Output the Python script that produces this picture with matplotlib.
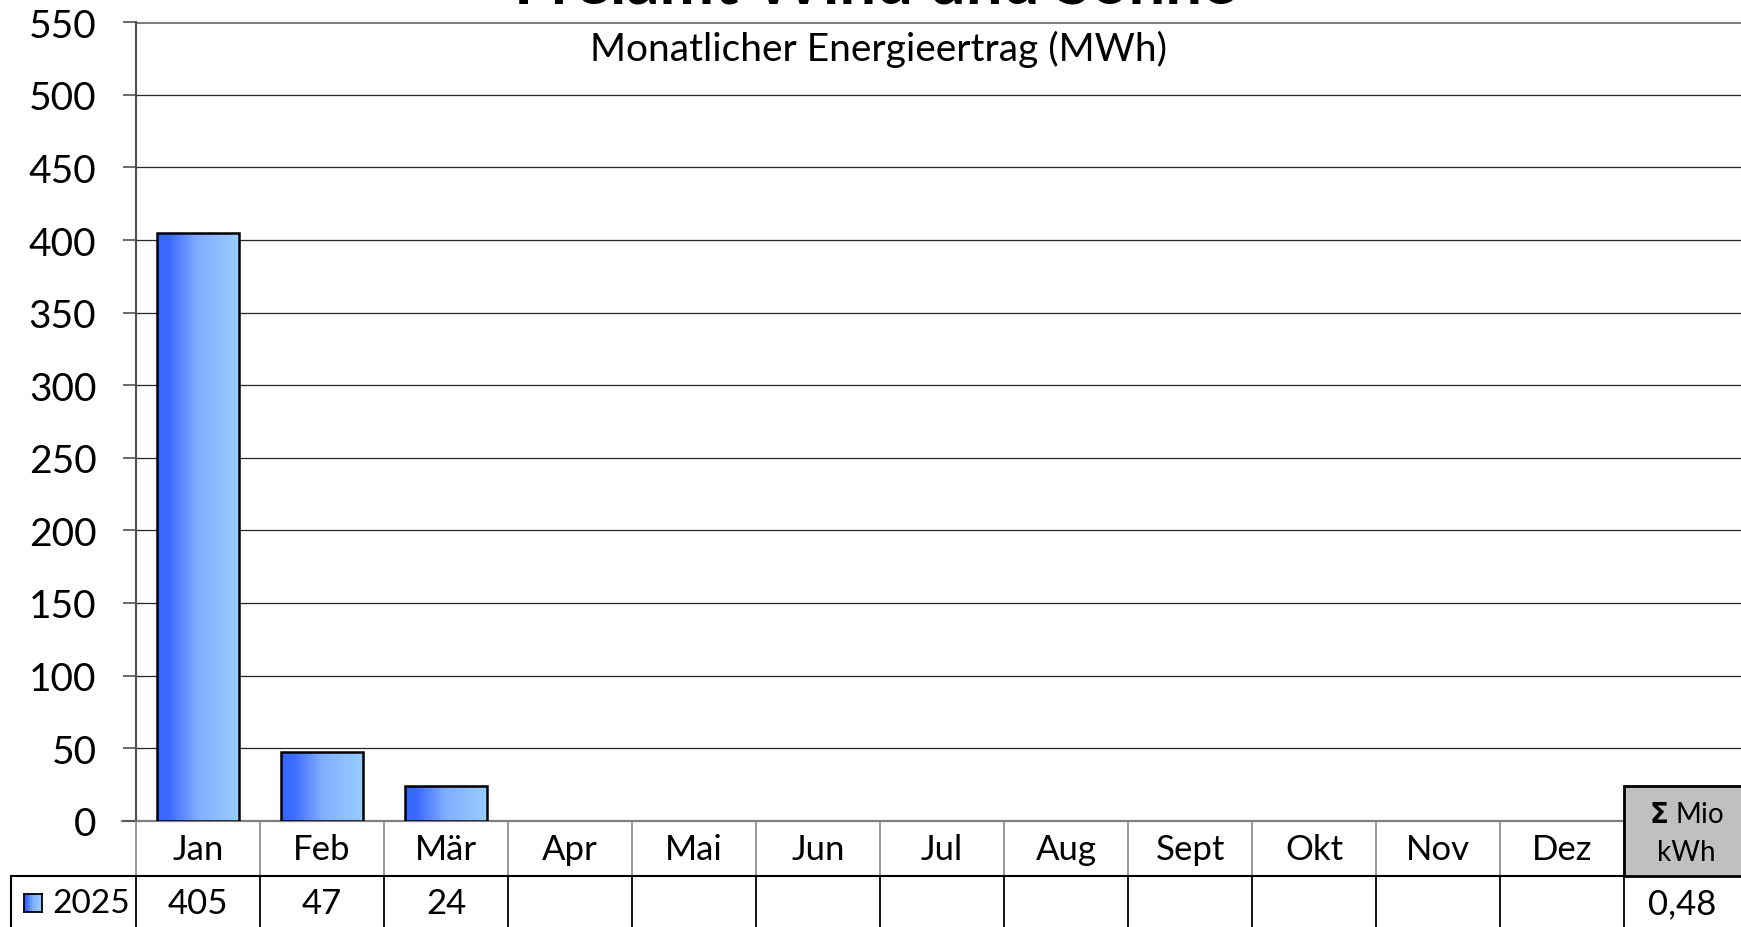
import numpy as np
import matplotlib
matplotlib.use("Agg")
import matplotlib.pyplot as plt
import matplotlib.transforms as mtransforms
from matplotlib.colors import LinearSegmentedColormap
from matplotlib.patches import Rectangle

plt.rcParams['font.family'] = ['Lato', 'DejaVu Sans']

# ---- data ----
title = "Freiamt Wind und Sonne"
subtitle = "Monatlicher Energieertrag (MWh)"
months = ["Jan", "Feb", "Mär", "Apr", "Mai", "Jun", "Jul", "Aug",
          "Sept", "Okt", "Nov", "Dez"]
series_label = "2025"
values_2025 = [405, 47, 24, None, None, None, None, None, None, None, None, None]
y_ticks = [0, 50, 100, 150, 200, 250, 300, 350, 400, 450, 500, 550]

total_mio_kwh = sum(v for v in values_2025 if v is not None) / 1000.0

W, H = 1741, 928
fig = plt.figure(figsize=(W / 100, H / 100), dpi=100)
fig.patch.set_facecolor("white")


def fx(px):
    return px / W


def fy(py):
    return 1 - py / H


left_px, top_px, zero_px = 136, 23.3, 821.7
col_w = 124.0
ax = fig.add_axes([fx(left_px), fy(zero_px), fx(W) - fx(left_px), fy(top_px) - fy(zero_px)])
ax.set_xlim(0, (W - left_px) / col_w)
ax.set_ylim(0, 550)

# gridlines
for t in y_ticks:
    if t == 0:
        ax.plot([-0.11, 12], [0, 0], color="#808080", lw=1.6, clip_on=False, zorder=1)
    elif t == 550:
        ax.axhline(t, color="#808080", lw=2.2, zorder=1)
    else:
        ax.axhline(t, color="#262626", lw=0.9, zorder=1)

for s in ["top", "right", "bottom"]:
    ax.spines[s].set_visible(False)
ax.spines["left"].set_color("#505050")
ax.spines["left"].set_linewidth(1.5)
ax.set_yticks(y_ticks)
ax.set_yticklabels([str(t) for t in y_ticks], fontsize=28)
ax.tick_params(axis="y", length=9.5, width=1.2, color="#505050", pad=19)
ax.set_xticks([])
ax.set_facecolor("none")

# gradient bars
cmap = LinearSegmentedColormap.from_list(
    "barfill", [(0.0, "#3366FF"), (0.15, "#3D6BFF"), (0.5, "#80AEFF"), (1.0, "#99CCFF")])
grad = np.linspace(0, 1, 256).reshape(1, -1)
bar_w = 0.66
xs = np.arange(len(months)) + 0.5
for x, v in zip(xs, values_2025):
    if v is None:
        continue
    ax.bar(x, v, width=bar_w, color="none", edgecolor="black", linewidth=1.8, zorder=4)
    ax.imshow(grad, cmap=cmap, aspect="auto", zorder=3,
              extent=(x - bar_w / 2, x + bar_w / 2, 0, v), interpolation="bilinear")
ax.set_xlim(0, (W - left_px) / col_w)
ax.set_ylim(0, 550)

# title (runs off the top edge) and subtitle
fig.text(fx(875), fy(3.5), title, ha="center", va="baseline",
         fontsize=47, fontweight="bold")
fig.text(fx(878), fy(49), subtitle, ha="center", va="center", fontsize=28)

# data table beneath the axis
tr = mtransforms.blended_transform_factory(ax.transData, fig.transFigure)
row1_top, row_div, row2_bot = 821.7, 877, 940
n = len(months)

# category row separators (grey) and data row separators (black)
for i in range(n + 1):
    ax.plot([i, i], [fy(row1_top), fy(row_div)], transform=tr, color="#808080",
            lw=1.1, clip_on=False, zorder=5)
    ax.plot([i, i], [fy(row_div), fy(row2_bot)], transform=tr, color="black",
            lw=1.3, clip_on=False, zorder=5)

legend_left = (11 - left_px) / col_w
ax.plot([legend_left, n], [fy(row_div), fy(row_div)], transform=tr, color="black",
        lw=1.5, clip_on=False, zorder=5)
ax.plot([legend_left, legend_left], [fy(row_div), fy(row2_bot)], transform=tr,
        color="black", lw=1.5, clip_on=False, zorder=5)

for x, m in zip(xs, months):
    ax.text(x, fy(850), m, transform=tr, ha="center", va="center", fontsize=25,
            clip_on=False)
for x, v in zip(xs, values_2025):
    if v is not None:
        ax.text(x, fy(904), str(v), transform=tr, ha="center", va="center",
                fontsize=25, clip_on=False)

# legend key for the series row
key_ax = fig.add_axes([fx(24), fy(913), fx(42) - fx(24), fy(895) - fy(913)])
key_ax.imshow(grad, cmap=cmap, aspect="auto", extent=(0, 1, 0, 1))
key_ax.set_xticks([])
key_ax.set_yticks([])
for s in key_ax.spines.values():
    s.set_linewidth(1.3)
    s.set_color("black")
fig.text(fx(52), fy(904), series_label, ha="left", va="center", fontsize=24)

# total column
sum_box = Rectangle((n, fy(row_div)), 1.0, fy(787) - fy(row_div), transform=tr,
                    facecolor="#C0C0C0", edgecolor="black", lw=2.0, clip_on=False,
                    zorder=6)
ax.add_patch(sum_box)
ax.text(n + 0.5, fy(815), r"$\mathbf{\Sigma}$ Mio", transform=tr, ha="center",
        va="center", fontsize=20, clip_on=False, zorder=7)
ax.text(n + 0.5, fy(853), "kWh", transform=tr, ha="center", va="center",
        fontsize=20, clip_on=False, zorder=7)
ax.text(n + 0.47, fy(904), f"{total_mio_kwh:.2f}".replace(".", ","), transform=tr,
        ha="center", va="center", fontsize=25, clip_on=False)

fig.savefig("out.png", dpi=100)
